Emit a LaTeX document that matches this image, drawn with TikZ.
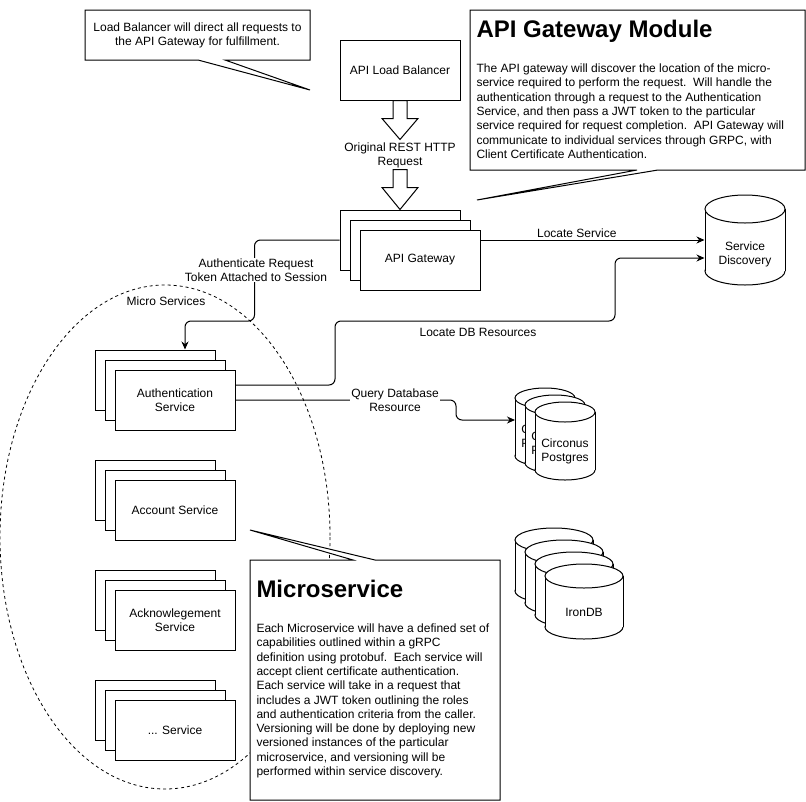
\documentclass[tikz,border=0pt]{standalone}
\usepackage{fontspec}
\setmainfont{Liberation Sans}
\usetikzlibrary{arrows.meta,calc}
\newcommand{\mycyl}[5]{%
  \filldraw[fill=white] (#1+#3/2,#2+#4-#5) ellipse ({#3/2} and #5);
  \fill[white] (#1,#2+#5) rectangle (#1+#3,#2+#4-#5);
  \draw (#1,#2+#5) -- (#1,#2+#4-#5) (#1+#3,#2+#5) -- (#1+#3,#2+#4-#5);
  \filldraw[fill=white] (#1+#3/2,#2+#5) ellipse ({#3/2} and #5);
}
\begin{document}
\begin{tikzpicture}[x=1pt,y=-1pt,line width=1pt,
  every node/.style={font=\fontsize{12}{14}\selectfont, align=center, inner sep=1pt},
  svc/.style={draw, fill=white, minimum width=120pt, minimum height=60pt, inner sep=0pt},
  conn/.style={rounded corners=6pt, -{Stealth[length=8pt,width=7pt]}},
  lbl/.style={fill=white, inner sep=1pt},
  body/.style={anchor=north west, align=left, inner sep=0pt, font=\fontsize{12}{14.3}\selectfont},
  ttl/.style={anchor=base west, inner sep=0pt, font=\fontsize{24}{28}\selectfont\bfseries},
  callout/.style={draw, fill=white, line join=miter},
  blockarrow/.style={draw, fill=white, line join=miter}]

\useasboundingbox (0,0) rectangle (806,801);

% dashed micro services boundary
\draw[dash pattern=on 3pt off 3pt, line width=0.8pt] (165,537) ellipse (165 and 252);
\node (msl) at (166,301) {Micro Services};

% top-left callout
\draw[callout] (85,10) -- (310,10) -- (310,60) -- (225,60) -- (310,90) -- (198,60) -- (85,60) -- cycle;
\node (lbnote) at (197.5,35) {Load Balancer will direct all requests to\\the API Gateway for fulfillment.};

% API gateway module callout
\draw[callout] (470,10) -- (805,10) -- (805,170) -- (658,170) -- (477,200) -- (637,170) -- (470,170) -- cycle;
\node[ttl] (gmt) at (476,37) {API Gateway Module};
\node[body] (gmb) at (476,63.4) {The API gateway will discover the location of the micro-\\
service required to perform the request.\ \ Will handle the\\
authentication through a request to the Authentication\\
Service, and then pass a JWT token to the particular\\
service required for request completion.\ \ API Gateway will\\
communicate to individual services through GRPC, with\\
Client Certificate Authentication.};

% load balancer
\node[svc] (lb) at (400,70) {API Load Balancer};

% gateway stack
\node[svc] (gw1) at (400,240) {};
\node[svc] (gw2) at (410,250) {};
\node[svc] (gw) at (420,260) {API Gateway};

% block arrows
\draw[blockarrow] (lb.south) ++(-7,0) -- ++(14,0) -- ++(0,18) -- ++(11,0) -- ++(-18,21) -- ++(-18,-21) -- ++(11,0) -- cycle;
\node (req) at (400,155) {Original REST HTTP\\Request};
\draw[blockarrow] ([yshift=40pt]gw1.north) ++(-7,0) -- ++(14,0) -- ++(0,18) -- ++(11,0) -- ++(-18,22) -- ++(-18,-22) -- ++(11,0) -- cycle;

% service discovery
\mycyl{705}{195}{80}{90}{14}
\node[minimum width=80pt, inner sep=0pt] (sd) at (745,254) {Service\\Discovery};

% auth stack
\node[svc] (auth1) at (155,380) {};
\node[svc] (auth2) at (165,390) {};
\node[svc] (auth) at (175,400) {Authentication\\Service};

% account stack
\node[svc] (acc1) at (155,490) {};
\node[svc] (acc2) at (165,500) {};
\node[svc] (acc) at (175,510) {Account Service};

% ack stack
\node[svc] (ack1) at (155,600) {};
\node[svc] (ack2) at (165,610) {};
\node[svc] (ack) at (175,620) {Acknowlegement\\Service};

% ... service stack
\node[svc] (etc1) at (155,710) {};
\node[svc] (etc2) at (165,720) {};
\node[svc] (etc) at (175,730) {... Service};

% circonus postgres
\mycyl{515}{388}{60}{78}{10}
\node (pg1) at (545,437) {Circonus\\Postgres};
\mycyl{525}{395}{60}{78}{10}
\node (pg2) at (555,444) {Circonus\\Postgres};
\mycyl{535}{402}{60}{78}{10}
\node (pg3) at (565,451) {Circonus\\Postgres};
\coordinate (pgin) at (515,420);

% irondb
\mycyl{515}{528}{78}{75}{12}
\mycyl{525}{540}{78}{75}{12}
\mycyl{535}{552}{78}{75}{12}
\mycyl{545}{564}{78}{75}{12}
\node (iron) at (584,612) {IronDB};

% connectors
\draw[conn] (gw1.west) -- ++(-85,0) -- ++(0,81) -| ([xshift=30pt]auth1.north);
\node[lbl] (authlbl) at (256,270) {Authenticate Request\\Token Attached to Session};

\draw[conn] (gw.east |- gw1.west) -- node[pos=0.43, above=2pt, inner sep=0pt] (lsl) {Locate Service} ([yshift=14pt]sd.west);

\draw[conn] ([yshift=15pt]auth.east) -- (335,385) -- (335,321) -- (615,321) -- (615,258) -- ([yshift=-4pt]sd.west);
\node (ldl) at (478,332) {Locate DB Resources};

\draw[conn] (auth.east) -- (456,400) -- (456,420) -- (pgin);
\node[lbl] (qdl) at (395,400) {Query Database\\Resource};

% microservice callout
\draw[callout] (250,560) -- (353,560) -- (250,530) -- (375,560) -- (500,560) -- (500,800) -- (250,800) -- cycle;
\node[ttl] (mst) at (256,597) {Microservice};
\node[body] (msb) at (256,623.3) {Each Microservice will have a defined set of\\
capabilities outlined within a gRPC\\
definition using protobuf.\ \ Each service will\\
accept client certificate authentication.\\
Each service will take in a request that\\
includes a JWT token outlining the roles\\
and authentication criteria from the caller.\\
Versioning will be done by deploying new\\
versioned instances of the particular\\
microservice, and versioning will be\\
performed within service discovery.};
\end{tikzpicture}
\end{document}
